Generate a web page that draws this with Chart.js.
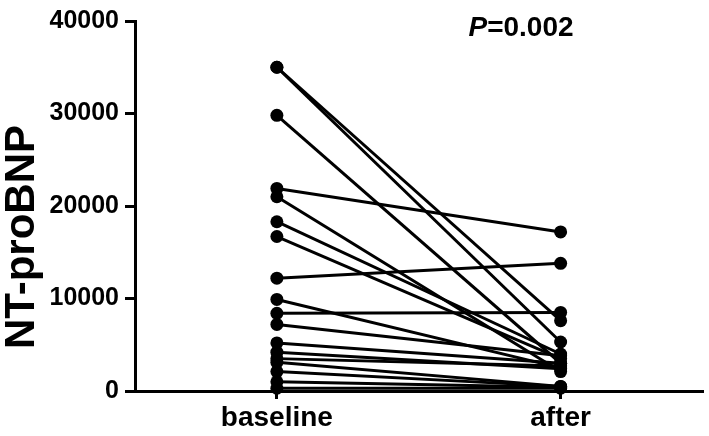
<!DOCTYPE html>
<html>
<head>
<meta charset="utf-8">
<script src="https://cdn.jsdelivr.net/npm/chart.js@4.4.1/dist/chart.umd.min.js"></script>
<style>
  body { margin: 0; background: #fff; }
  canvas { display: block; }
</style>
</head>
<body>
<canvas id="chart" width="709" height="436"></canvas>
<script>
// werte
const categories = ['baseline', 'after'];
const baselineValues = [35000, 35000, 29800, 21900, 21000, 18300, 16700, 12200, 9900, 8400, 7200, 5200, 4200, 3500, 3100, 2100, 1000, 300];
const afterValues = [5300, 7600, 3000, 17200, 2100, 4000, 3500, 13800, 2500, 8500, 3800, 3000, 2400, 2700, 500, 500, 400, 300];
const yTicks = [0, 10000, 20000, 30000, 40000];
const yTitle = 'NT-proBNP';
const pLabel = 'P';
const pValue = '=0.002';

const fontFam = '"Liberation Sans", Arial, sans-serif';

// jedes paar wird eine eigene linie
const datasets = baselineValues.map(function(b, i) {
    return {
        data: [b, afterValues[i]],
        borderColor: '#000',
        backgroundColor: '#000',
        borderWidth: 3,
        pointRadius: 6.5,
        pointBorderWidth: 0,
        pointBackgroundColor: '#000',
        clip: false
    };
});

// titel der y-achse und p-wert werden selbst gezeichnet
const textPlugin = {
    id: 'texts',
    afterDraw: function(chart) {
        const ctx = chart.ctx;
        ctx.save();
        ctx.fillStyle = '#000';
        ctx.textBaseline = 'middle';
        ctx.font = 'italic bold 28px ' + fontFam;
        const w1 = ctx.measureText(pLabel).width;
        ctx.font = 'bold 28px ' + fontFam;
        const w2 = ctx.measureText(pValue).width;
        const x0 = 521 - (w1 + w2) / 2;
        ctx.textAlign = 'left';
        ctx.font = 'italic bold 28px ' + fontFam;
        ctx.fillText(pLabel, x0, 28);
        ctx.font = 'bold 28px ' + fontFam;
        ctx.fillText(pValue, x0 + w1, 28);

        ctx.translate(22, 237);
        ctx.rotate(-Math.PI / 2);
        ctx.textAlign = 'center';
        ctx.font = 'bold 42px ' + fontFam;
        ctx.fillText(yTitle, 0, 0);
        ctx.restore();
    }
};

const myChart = new Chart(document.getElementById('chart'), {
    type: 'line',
    data: {
        labels: categories,
        datasets: datasets
    },
    plugins: [textPlugin],
    options: {
        responsive: false,
        animation: false,
        layout: { padding: { top: 16, right: 6, left: 0, bottom: 0 } },
        plugins: {
            legend: { display: false },
            tooltip: { enabled: false }
        },
        scales: {
            x: {
                offset: true,
                grid: { display: true, drawOnChartArea: false, drawTicks: true, tickLength: 8, offset: false, color: '#000', lineWidth: 3 },
                border: { display: true, color: '#000', width: 3 },
                ticks: { color: '#000', font: { family: fontFam, size: 28, weight: 'bold' }, padding: 2 },
                afterFit: function(scale) { scale.height = 45; }
            },
            y: {
                min: 0,
                max: 40000,
                afterBuildTicks: function(scale) {
                    scale.ticks = yTicks.map(function(v) { return { value: v }; });
                },
                grid: { display: true, drawOnChartArea: false, drawTicks: true, tickLength: 10, color: '#000', lineWidth: 3 },
                border: { display: true, color: '#000', width: 3 },
                ticks: {
                    color: '#000',
                    font: { family: fontFam, size: 25, weight: 'bold' },
                    padding: 6,
                    callback: function(v) { return String(v); }
                },
                afterFit: function(scale) { scale.width = 135; }
            }
        }
    }
});
</script>
</body>
</html>
